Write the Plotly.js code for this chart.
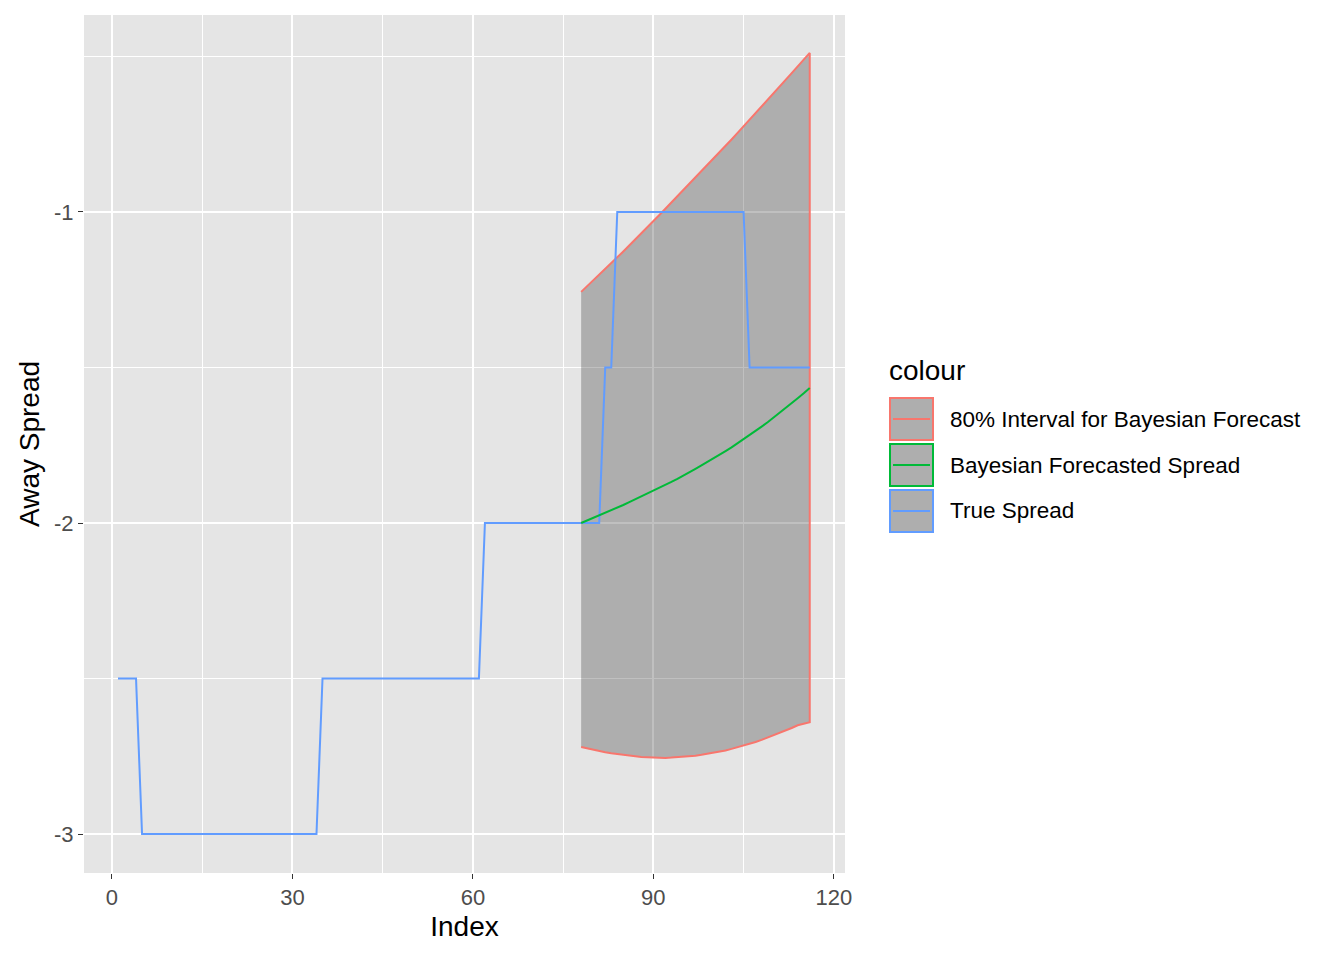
<!DOCTYPE html>
<html>
<head>
<meta charset="utf-8">
<script src="https://cdn.plot.ly/plotly-3.0.1.min.js"></script>
<style>body{margin:0;background:#fff}#chart{width:1344px;height:960px}</style>
</head>
<body>
<div id="chart"></div>
<script>
// true spread, index 1..116
var trueIdx = [];
for (var i = 1; i <= 116; i++) trueIdx.push(i);
var trueSpread = [
  -2.5,-2.5,-2.5,-2.5,
  -3,-3,-3,-3,-3,-3,-3,-3,-3,-3,-3,-3,-3,-3,-3,-3,-3,-3,-3,-3,-3,-3,-3,-3,-3,-3,-3,-3,-3,-3,
  -2.5,-2.5,-2.5,-2.5,-2.5,-2.5,-2.5,-2.5,-2.5,-2.5,-2.5,-2.5,-2.5,-2.5,-2.5,-2.5,-2.5,-2.5,-2.5,-2.5,-2.5,-2.5,-2.5,-2.5,-2.5,-2.5,-2.5,
  -2,-2,-2,-2,-2,-2,-2,-2,-2,-2,-2,-2,-2,-2,-2,-2,-2,-2,-2,-2,
  -1.5,-1.5,
  -1,-1,-1,-1,-1,-1,-1,-1,-1,-1,-1,-1,-1,-1,-1,-1,-1,-1,-1,-1,-1,-1,
  -1.5,-1.5,-1.5,-1.5,-1.5,-1.5,-1.5,-1.5,-1.5,-1.5,-1.5
];

// forecast, index 78..116
var fcIdx = [];
for (var j = 78; j <= 116; j++) fcIdx.push(j);
var fcMean = [-2.000,-1.992,-1.984,-1.976,-1.968,-1.959,-1.951,-1.942,-1.933,-1.924,-1.915,-1.906,-1.897,-1.888,-1.878,-1.868,-1.858,-1.848,-1.837,-1.826,-1.815,-1.804,-1.793,-1.781,-1.769,-1.757,-1.744,-1.731,-1.718,-1.704,-1.690,-1.676,-1.661,-1.646,-1.631,-1.615,-1.599,-1.583,-1.566];
var fcUpper = [-1.257,-1.239,-1.220,-1.202,-1.183,-1.165,-1.146,-1.127,-1.108,-1.089,-1.069,-1.050,-1.030,-1.010,-0.990,-0.970,-0.950,-0.930,-0.910,-0.890,-0.870,-0.850,-0.830,-0.809,-0.788,-0.767,-0.746,-0.725,-0.704,-0.683,-0.661,-0.640,-0.618,-0.597,-0.575,-0.554,-0.532,-0.511,-0.489];
var fcLower = [-2.720,-2.725,-2.729,-2.733,-2.737,-2.740,-2.743,-2.746,-2.748,-2.750,-2.752,-2.753,-2.754,-2.755,-2.755,-2.754,-2.753,-2.752,-2.750,-2.748,-2.745,-2.742,-2.739,-2.735,-2.731,-2.726,-2.721,-2.716,-2.710,-2.704,-2.697,-2.690,-2.683,-2.675,-2.667,-2.659,-2.650,-2.645,-2.640];

var legendLabels = ["80% Interval for Bayesian Forecast", "Bayesian Forecasted Spread", "True Spread"];
var legendColors = ["#F8766D", "#00BA38", "#619CFF"];

var ribbonX = fcIdx.concat(fcIdx.slice().reverse());
var ribbonY = fcUpper.concat(fcLower.slice().reverse());

var data = [
  {x: ribbonX, y: ribbonY, type: "scatter", mode: "lines", fill: "toself",
   fillcolor: "rgba(51,51,51,0.31)", line: {color: legendColors[0], width: 2}, showlegend: false, hoverinfo: "skip"},
  {x: trueIdx, y: trueSpread, type: "scatter", mode: "lines", line: {color: legendColors[2], width: 2}, showlegend: false},
  {x: fcIdx, y: fcMean, type: "scatter", mode: "lines", line: {color: legendColors[1], width: 2}, showlegend: false}
];

var shapes = [], annotations = [];
var px = function (v) { return (v - 84) / 761; };
var py = function (v) { return (873 - v) / 858; };
annotations.push({xref: "paper", yref: "paper", x: px(887), y: py(370), xanchor: "left", yanchor: "middle",
  text: "colour", showarrow: false, font: {size: 28, color: "#000"}});
legendLabels.forEach(function (lab, k) {
  var top = 398 + k * 46, bot = top + 42;
  shapes.push({type: "rect", xref: "paper", yref: "paper", x0: px(890), x1: px(933), y0: py(bot), y1: py(top),
    fillcolor: "#AEAEAE", line: {color: legendColors[k], width: 2}});
  shapes.push({type: "line", xref: "paper", yref: "paper", x0: px(893), x1: px(930), y0: py(top + 21), y1: py(top + 21),
    line: {color: legendColors[k], width: 2}});
  annotations.push({xref: "paper", yref: "paper", x: px(948), y: py(top + 21), xanchor: "left", yanchor: "middle",
    text: lab, showarrow: false, font: {size: 22.5, color: "#000"}});
});

var layout = {
  width: 1344, height: 960,
  margin: {l: 84, r: 499, t: 15, b: 87},
  paper_bgcolor: "#fff", plot_bgcolor: "#E5E5E5",
  font: {family: "Liberation Sans, Arial, sans-serif"},
  xaxis: {range: [-4.65, 121.86], tickvals: [0, 30, 60, 90, 120], zeroline: false,
    showgrid: true, gridcolor: "#fff", gridwidth: 2.2,
    minor: {tickvals: [15, 45, 75, 105], showgrid: true, gridcolor: "#fff", gridwidth: 1, ticks: ""},
    ticks: "outside", ticklen: 5, tickcolor: "#333", tickwidth: 1.1,
    tickfont: {size: 22, color: "#4D4D4D"},
    title: {text: "Index", font: {size: 28, color: "#000"}, standoff: 6}},
  yaxis: {range: [-3.125, -0.367], tickvals: [-3, -2, -1], ticktext: ["-3", "-2", "-1"], zeroline: false,
    showgrid: true, gridcolor: "#fff", gridwidth: 2.2,
    minor: {tickvals: [-2.5, -1.5, -0.5], showgrid: true, gridcolor: "#fff", gridwidth: 1, ticks: ""},
    ticks: "outside", ticklen: 5, tickcolor: "#333", tickwidth: 1.1,
    tickfont: {size: 22, color: "#4D4D4D"},
    title: {text: "Away Spread", font: {size: 28, color: "#000"}, standoff: 6}},
  shapes: shapes,
  annotations: annotations,
  showlegend: false
};

Plotly.newPlot("chart", data, layout, {displayModeBar: false});
</script>
</body>
</html>
